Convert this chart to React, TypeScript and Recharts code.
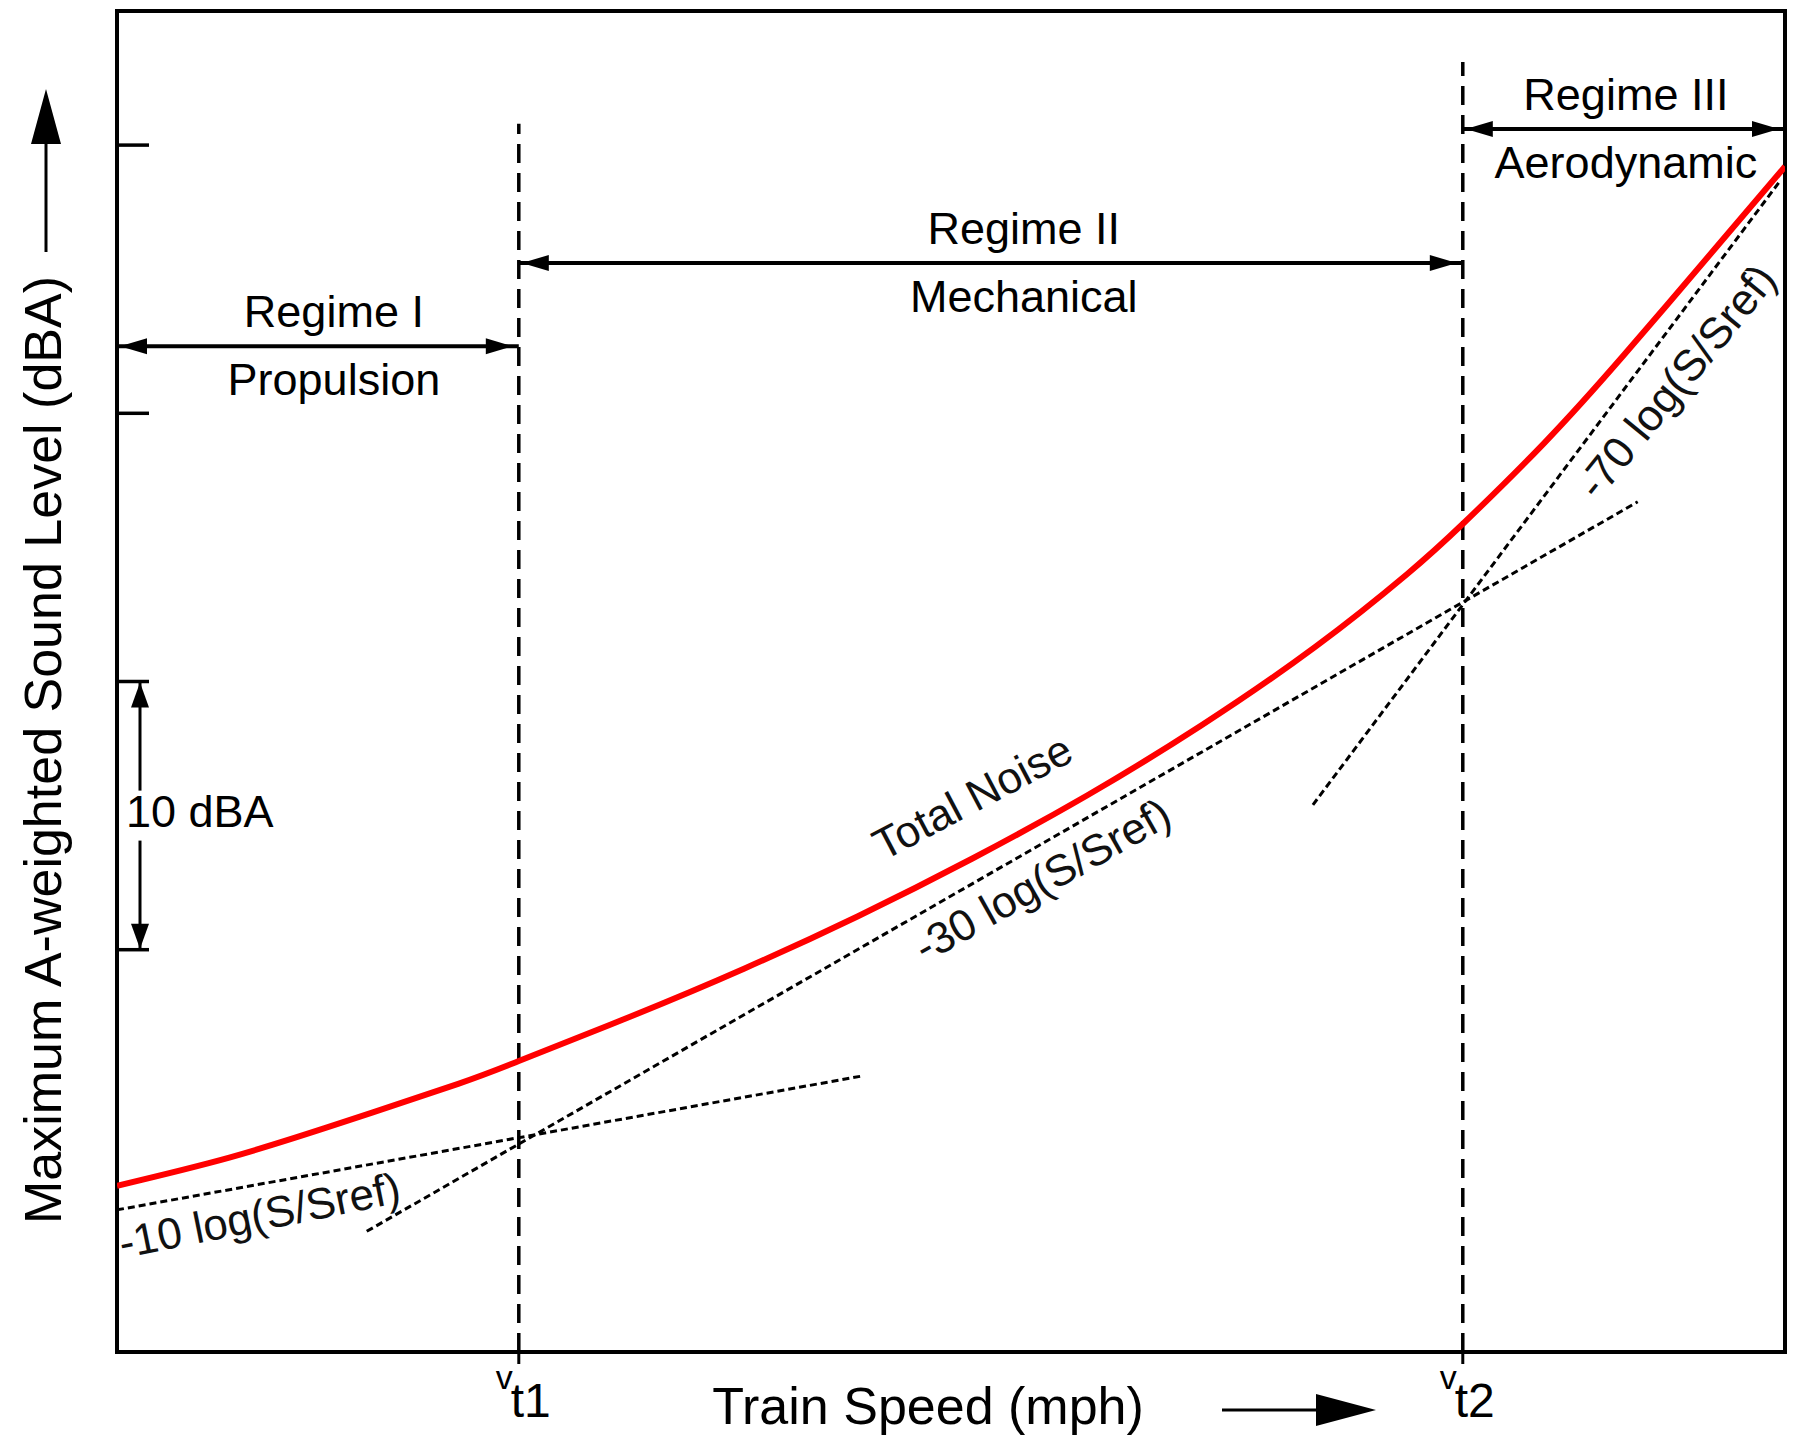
import React from 'react';
import {
  ComposedChart,
  Line,
  XAxis,
  YAxis,
  ReferenceLine,
  ReferenceArea,
  ReferenceDot,
} from 'recharts';

// train speed (mph, log axis) against maximum A-weighted level (dBA)
const speedDomain = [10, 150];
const levelDomain = [45, 95];
const levelTicks = [60, 70, 80, 90];
const transitionSpeeds = [19.2, 88.9];
const transitionNames = ['t1', 't2'];
const transitionTops = [90.8, 93.1];

const totalNoise = [
  { speed: 10, level: 51.2 },
  { speed: 12.0, level: 52.25 },
  { speed: 14.4, level: 53.55 },
  { speed: 17.4, level: 55.0 },
  { speed: 19.2, level: 55.85 },
  { speed: 23.0, level: 57.5 },
  { speed: 27.7, level: 59.3 },
  { speed: 33.3, level: 61.25 },
  { speed: 40.1, level: 63.4 },
  { speed: 48.3, level: 65.75 },
  { speed: 58.1, level: 68.35 },
  { speed: 70.0, level: 71.3 },
  { speed: 81.2, level: 74.0 },
  { speed: 89.0, level: 75.9 },
  { speed: 101.5, level: 78.9 },
  { speed: 115.6, level: 82.2 },
  { speed: 134.2, level: 86.2 },
  { speed: 150, level: 89.2 },
];
const propulsion = [
  { speed: 10, level: 50.3 },
  { speed: 33.6, level: 55.3 },
];
const mechanical = [
  { speed: 15.0, level: 49.5 },
  { speed: 118.1, level: 76.7 },
];
const aerodynamic = [
  { speed: 69.7, level: 65.4 },
  { speed: 148.5, level: 88.6 },
];

const regimeNames = ['Regime I', 'Regime II', 'Regime III'];
const regimeSources = ['Propulsion', 'Mechanical', 'Aerodynamic'];
const regimeFrom = [10, 19.2, 88.9];
const regimeTo = [19.2, 88.9, 150];
const regimeLevels = [82.5, 85.6, 90.6];

const curveLabels = ['Total Noise', '-30 log(S/Sref)', '-10 log(S/Sref)', '-70 log(S/Sref)'];
const curveLabelSpeeds = [40.1, 44.9, 12.6, 125.7];
const curveLabelLevels = [65.7, 62.6, 50.1, 81.2];

// styling
const FONT = '"Liberation Sans", Arial, sans-serif';
const INK = '#000';
const labelAngles = [-27.8, -29.4, -11.4, -50.9];
const regimeShift = [16, 33, 2];

const RegimeArrow = (props: any) => {
  const { x1, y1, x2 } = props;
  const y = y1;
  return (
    <g>
      <line x1={x1} y1={y} x2={x2} y2={y} stroke={INK} strokeWidth={4} />
      <polygon points={`${x1 + 3},${y} ${x1 + 30},${y - 8} ${x1 + 30},${y + 8}`} fill={INK} />
      <polygon points={`${x2 - 6},${y} ${x2 - 33},${y - 8} ${x2 - 33},${y + 8}`} fill={INK} />
    </g>
  );
};

const regimeLabel = (i: number) => (p: any) => {
  const { x, y, width } = p.viewBox;
  const cx = x + width / 2 + regimeShift[i];
  return (
    <g fontFamily={FONT} fontSize={45} fill={INK} textAnchor="middle">
      <text x={cx} y={y - 19}>{regimeNames[i]}</text>
      <text x={cx} y={y + 49}>{regimeSources[i]}</text>
    </g>
  );
};

// short inward tick on the left frame
const LevelTick = (props: any) => {
  const { x1, y1 } = props;
  return <line x1={x1} y1={y1} x2={x1 + 32} y2={y1} stroke={INK} strokeWidth={3.5} />;
};

const Bracket = (props: any) => {
  const { x1, y1, y2 } = props;
  const x = x1 + 23;
  const mid = (y1 + y2) / 2;
  return (
    <g>
      <line x1={x} y1={y1} x2={x} y2={mid - 25} stroke={INK} strokeWidth={3} />
      <line x1={x} y1={mid + 25} x2={x} y2={y2} stroke={INK} strokeWidth={3} />
      <polygon points={`${x},${y1 + 1} ${x - 9},${y1 + 26} ${x + 9},${y1 + 26}`} fill={INK} />
      <polygon points={`${x},${y2 - 1} ${x - 9},${y2 - 26} ${x + 9},${y2 - 26}`} fill={INK} />
      <text x={x1 + 9} y={mid - 4} dy="0.35em" fontFamily={FONT} fontSize={45} fill={INK}>
        10 dBA
      </text>
    </g>
  );
};

const curveLabel = (i: number) => (p: any) => {
  const { x, y } = p.viewBox;
  return (
    <text
      x={x}
      y={y}
      dy="0.35em"
      transform={`rotate(${labelAngles[i]} ${x} ${y})`}
      textAnchor="middle"
      fontFamily={FONT}
      fontSize={44}
      fill="#111"
    >
      {curveLabels[i]}
    </text>
  );
};

const SpeedTick = (props: any) => {
  const { x, y, index } = props;
  return (
    <g fontFamily={FONT} fill={INK}>
      <text x={x - 6} y={y + 25} fontSize={34} textAnchor="end">v</text>
      <text x={x - 8} y={y + 53} fontSize={48}>{transitionNames[index]}</text>
    </g>
  );
};

const xTitle = (p: any) => {
  const { x, y } = p.viewBox;
  const ay = y + 58;
  return (
    <g>
      <text x={x + 811} y={y + 72} textAnchor="middle" fontFamily={FONT} fontSize={52} fill={INK}>
        Train Speed (mph)
      </text>
      <line x1={x + 1105} y1={ay} x2={x + 1205} y2={ay} stroke={INK} strokeWidth={3} />
      <polygon points={`${x + 1259},${ay} ${x + 1199},${ay - 16} ${x + 1199},${ay + 16}`} fill={INK} />
    </g>
  );
};

const yTitle = (p: any) => {
  const { x, y } = p.viewBox;
  const tx = x - 74;
  const ty = y + 739;
  const ax = x - 71;
  return (
    <g>
      <text
        x={tx}
        y={ty}
        dy="0.35em"
        transform={`rotate(-90 ${tx} ${ty})`}
        textAnchor="middle"
        fontFamily={FONT}
        fontSize={52}
        fill={INK}
      >
        Maximum A-weighted Sound Level (dBA)
      </text>
      <line x1={ax} y1={y + 241} x2={ax} y2={y + 120} stroke={INK} strokeWidth={3} />
      <polygon points={`${ax},${y + 78} ${ax - 15},${y + 133} ${ax + 15},${y + 133}`} fill={INK} />
    </g>
  );
};

const dashed = { stroke: INK, strokeWidth: 3, strokeDasharray: '7 4' };

const App = () => {
  return (
    <div style={{ position: 'absolute', left: 0, top: 0, width: 1794, height: 1436, background: '#fff' }}>
      <ComposedChart width={1794} height={1436} margin={{ top: 11, right: 9, left: 117, bottom: 24 }}>
        <XAxis
          type="number"
          dataKey="speed"
          scale="log"
          domain={speedDomain}
          allowDataOverflow
          ticks={transitionSpeeds}
          tick={<SpeedTick />}
          tickSize={12}
          tickMargin={0}
          tickLine={{ stroke: INK, strokeWidth: 3 }}
          axisLine={false}
          height={60}
          label={xTitle}
        />
        <YAxis type="number" dataKey="level" domain={levelDomain} allowDataOverflow hide />
        <ReferenceArea
          x1={speedDomain[0]}
          x2={speedDomain[1]}
          y1={levelDomain[0]}
          y2={levelDomain[1]}
          fill="none"
          fillOpacity={0}
          stroke={INK}
          strokeWidth={4}
          label={yTitle}
        />
        {levelTicks.map((lv) => (
          <ReferenceLine
            key={`tick${lv}`}
            segment={[
              { x: speedDomain[0], y: lv },
              { x: speedDomain[0], y: lv },
            ]}
            shape={LevelTick}
          />
        ))}
        {transitionSpeeds.map((s, i) => (
          <ReferenceLine
            key={`vt${i}`}
            segment={[
              { x: s, y: levelDomain[0] },
              { x: s, y: transitionTops[i] },
            ]}
            stroke={INK}
            strokeWidth={3.5}
            strokeDasharray="19 10"
          />
        ))}
        {regimeNames.map((name, i) => (
          <ReferenceLine
            key={name}
            segment={[
              { x: regimeFrom[i], y: regimeLevels[i] },
              { x: regimeTo[i], y: regimeLevels[i] },
            ]}
            shape={RegimeArrow}
            label={regimeLabel(i)}
          />
        ))}
        <ReferenceLine
          segment={[
            { x: speedDomain[0], y: levelTicks[1] },
            { x: speedDomain[0], y: levelTicks[0] },
          ]}
          shape={Bracket}
        />
        <Line data={propulsion} dataKey="level" type="linear" {...dashed} dot={false} isAnimationActive={false} />
        <Line data={mechanical} dataKey="level" type="linear" {...dashed} dot={false} isAnimationActive={false} />
        <Line data={aerodynamic} dataKey="level" type="linear" {...dashed} dot={false} isAnimationActive={false} />
        <Line data={totalNoise} dataKey="level" type="natural" stroke="#ff0000" strokeWidth={6} dot={false} isAnimationActive={false} />
        {curveLabels.map((t, i) => (
          <ReferenceDot
            key={t}
            x={curveLabelSpeeds[i]}
            y={curveLabelLevels[i]}
            r={0}
            fill="none"
            stroke="none"
            label={curveLabel(i)}
          />
        ))}
      </ComposedChart>
    </div>
  );
};

export default App;
